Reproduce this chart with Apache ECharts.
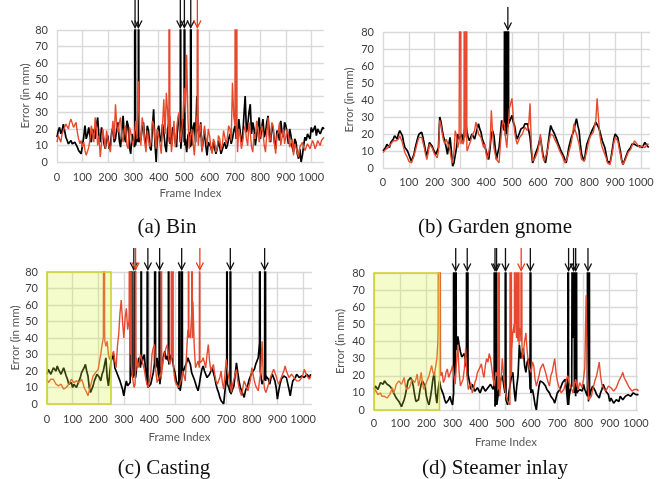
<!DOCTYPE html>
<html>
<head>
<meta charset="utf-8">
<script src="https://cdn.jsdelivr.net/npm/echarts@6/dist/echarts.min.js"></script>
<style>
  html, body { margin: 0; padding: 0; background: #fff; }
  #chart { width: 667px; height: 479px; }
</style>
</head>
<body>
<div id="chart"></div>
<script>
// Per-frame tracking error (mm). Each series is stored as readings on the
// frames 0,10,20,... plus the readings on the frames 5,15,25,..., and the
// short excursions past the top of the axis are listed as [frame, value].
const STEP = 10;
const xTickLabels = [0, 100, 200, 300, 400, 500, 600, 700, 800, 900, 1000];
const yTickLabels = [0, 10, 20, 30, 40, 50, 60, 70, 80];

// (a) Bin
const binBlack = [
  15,21,19,22,13,12,11,12,9,6,
  4,22,17,15,20,14,27,12,18,8,
  16,10,21,14,24,9,28,12,22,5,
  18,11,21,14,24,10,19,7,32,0,
  22,12,18,6,24,13,19,9,28,14,
  22,6,18,10,24,40,15,7,19,4,
  13,6,11,8,9,6,12,10,17,14,
  22,18,25,15,40,22,35,24,10,22,
  14,26,18,28,12,20,8,17,25,15,
  22,11,16,6,12,2,0,10,13,18,
  21,20,16,19,18,20
];
const binBlackMid = [
  19,17,23,15,11,13,10,12,7,5,
  15,14,21,12,17,22,15,21,11,14,
  8,18,12,20,13,19,15,25,9,17,
  9,17,12,20,13,22,9,20,12,19,
  15,23,10,20,11,21,12,24,12,26,
  14,16,9,21,12,19,24,13,10,12,
  9,12,5,13,5,10,8,14,11,19,
  14,26,12,28,18,30,17,20,16,27,
  21,15,24,17,22,12,19,13,18,24,
  17,20,9,14,5,8,4,15,17,14,
  18,22,20,17,21
];
const binRed = [
  12,14,17,20,22,24,26,22,18,11,
  9,7,5,14,18,27,10,3,20,8,
  14,6,25,35,18,27,12,22,8,18,
  10,25,49,10,22,6,18,12,23,8,
  20,5,38,42,12,6,25,10,30,18,
  45,65,8,20,4,28,18,6,22,10,
  16,5,12,8,14,10,18,15,20,48,
  22,6,16,12,22,10,18,6,14,20,
  12,18,6,27,14,22,5,18,10,20,
  12,16,8,4,10,3,8,9,8,10,
  9,11,10,12,13,15
];
const binRedMid = [
  16,12,19,23,20,26,21,24,14,13,
  12,4,9,22,12,20,16,11,14,19,
  9,16,14,22,24,15,20,10,21,12,
  17,14,20,27,12,19,9,25,14,20,
  11,22,17,30,28,14,9,27,12,26,
  30,26,16,12,15,12,23,14,15,20,
  9,14,6,16,7,19,11,22,13,28,
  14,20,8,19,14,24,9,17,25,12,
  22,10,17,12,24,11,16,24,15,11,
  20,9,14,11,6,9,12,7,11,8,
  13,8,13,10,14
];
const binBlackSpikes = [[306,14],[307,300],[308,300],[309,10],[319,12],[320,300],[321,300],[322,15],
  [484,14],[485,300],[486,300],[487,8],[500,12],[501,300],[502,300],[503,10],[525,10],[526,300],[527,300],[528,12]];
const binRedSpikes = [[439,30],[441,300],[442,300],[444,15],[551,20],[553,300],[554,300],[556,10],
  [700,40],[702,300],[704,48],[706,300],[708,20]];
const binArrowsBlack = [307, 320, 485, 501, 526];
const binArrowsRed = [552];

// (b) Garden gnome
const gnomeBlack = [
  10,12,13,15,17,18,20,23,15,11,
  9,4,8,15,20,21,14,7,15,13,
  10,7,30,22,16,8,18,1,4,20,
  18,16,27,18,17,21,18,26,21,15,
  10,5,20,19,5,12,28,22,20,27,
  31,25,17,21,22,26,26,18,3,8,
  12,18,8,3,14,25,22,18,14,10,
  7,3,12,18,22,29,22,8,4,14,
  18,22,25,26,22,16,12,4,3,12,
  20,18,10,2,6,10,12,15,14,12,
  14,13,14,12
];
const gnomeBlackMid = [
  11,14,12,16,19,17,22,19,12,10,
  6,5,12,18,19,18,10,11,16,11,
  8,12,27,18,12,14,10,3,12,17,
  20,21,22,16,20,17,23,23,17,16,
  7,12,22,12,9,20,25,19,24,29,
  27,20,19,23,24,27,22,10,5,9,
  15,13,5,8,20,23,20,16,12,9,
  5,7,15,20,26,25,14,6,9,16,
  20,23,27,24,19,14,8,3,7,17,
  19,14,5,4,8,11,14,14,13,13,
  12,15,13
];
const gnomeRed = [
  9,11,12,14,16,16,17,18,12,8,
  4,3,7,13,18,18,12,5,14,12,
  8,6,28,20,14,18,10,3,22,12,
  15,14,18,9,16,20,27,20,18,12,
  8,4,34,12,5,3,22,26,12,35,
  41,22,14,18,20,24,22,38,4,6,
  10,20,6,4,12,20,19,16,12,9,
  5,2,9,15,26,20,14,5,4,10,
  17,20,22,41,20,12,9,3,2,10,
  18,16,8,2,5,9,11,14,15,13,
  12,14,13,14
];
const gnomeRedMid = [
  10,12,13,15,15,17,19,15,9,6,
  3,5,10,16,19,15,8,9,13,10,
  7,10,25,16,17,13,5,9,19,16,
  17,15,12,14,19,22,24,19,15,14,
  5,14,20,8,4,14,28,18,24,38,
  30,17,16,19,22,23,26,14,5,8,
  14,12,4,9,17,21,17,14,10,7,
  3,6,12,20,22,17,9,4,7,14,
  19,21,28,30,15,10,6,2,6,15,
  17,12,4,3,7,10,13,16,14,12,
  13,12,14
];
const gnomeBlackSpikes = [[472,22],[474,300],[475,300],[477,25],[479,300],[480,300],[482,24],
  [484,300],[485,300],[487,26]];
const gnomeRedSpikes = [[299,15],[301,300],[302,14],[314,16],[316,300],[317,18],[322,20],[324,300],[326,10]];
const gnomeArrowsBlack = [484];
const gnomeArrowsRed = [];

// (c) Casting
const castBlack = [
  18,20,19,21,23,20,19,21,15,11,
  10,13,11,16,20,24,17,7,11,16,
  19,14,20,28,11,26,30,20,16,13,
  5,14,10,12,18,22,28,24,30,14,
  10,13,25,28,14,24,32,29,24,27,
  19,12,8,18,22,28,24,17,14,8,
  17,23,19,15,19,21,12,7,2,0,
  15,10,6,11,25,14,8,4,10,15,
  19,21,23,37,12,16,18,12,18,14,
  3,12,16,18,15,5,14,16,17,15,
  18,17,17,18
];
const castBlackMid = [
  21,18,22,20,21,18,22,17,12,13,
  12,10,14,19,22,20,10,9,14,18,
  16,18,24,16,19,28,22,18,14,9,
  10,11,13,16,20,25,22,28,20,11,
  12,19,22,18,20,29,27,26,30,22,
  14,9,13,21,25,26,19,15,10,12,
  21,20,16,18,22,16,9,4,1,8,
  12,7,9,18,19,10,6,8,12,17,
  20,24,28,20,14,17,15,16,16,10,
  8,15,17,16,9,10,15,18,16,17,
  16,18,16
];
const castRed = [
  15,14,16,14,13,10,12,8,9,13,
  14,12,15,14,13,9,5,11,17,19,
  21,30,40,35,30,28,32,22,42,63,
  40,58,50,22,10,28,25,29,21,12,
  9,30,36,13,16,22,31,36,24,30,
  14,11,9,20,14,45,40,62,22,26,
  24,28,22,36,20,24,14,11,20,9,
  27,16,7,15,21,10,5,14,11,9,
  22,14,10,7,38,9,8,15,19,20,
  14,14,17,23,18,15,17,15,13,15,
  18,20,16,17
];
const castRedMid = [
  13,15,15,12,11,12,9,10,12,15,
  13,14,13,15,10,7,8,14,18,20,
  26,36,45,38,27,30,26,35,55,50,
  52,45,30,15,20,22,30,24,16,10,
  18,34,20,15,19,27,34,28,27,20,
  12,10,15,17,30,42,55,35,24,22,
  26,25,30,26,22,18,12,16,13,18,
  20,11,12,18,14,7,10,12,8,15,
  18,11,8,20,15,7,12,17,21,17,
  12,16,20,20,16,18,16,14,14,16,
  21,17,15
];
const castBlackSpikes = [[329,12],[330,300],[331,300],[332,18],[342,18],[343,300],[344,300],[346,16],
  [367,26],[368,300],[369,28],[391,12],[392,300],[393,300],[394,10],[422,24],[423,300],[424,26],
  [438,14],[439,300],[440,300],[441,12],[474,26],[475,300],[476,24],[517,10],[518,300],[519,14],
  [526,16],[527,300],[528,300],[529,18],[702,18],[703,300],[704,14],[715,8],[716,300],[717,300],[718,6],
  [830,37],[831,300],[832,300],[833,20],[851,16],[852,300],[853,300],[854,14]];
const castRedSpikes = [[223,40],[224,300],[226,38],[321,55],[322,300],[324,50],[327,30],[328,300],[329,25],
  [344,12],[346,300],[347,20],[446,15],[447,300],[448,18],[485,26],[486,300],[487,28],[491,28],[492,300],[493,25],
  [552,40],[553,300],[554,45],[565,50],[566,300],[568,40],[594,25],[596,300],[597,25]];
const castArrowsBlack = [339, 394, 440, 526, 716, 850];
const castArrowsRed = [346, 597];

// (d) Steamer inlay
const steamBlack = [
  12,13,14,16,17,15,14,12,9,6,
  4,3,9,17,19,14,5,6,15,18,
  8,3,12,22,4,17,14,6,3,8,
  3,18,43,34,30,27,20,12,14,10,
  12,11,13,10,12,14,15,2,16,20,
  10,3,15,22,5,20,30,36,22,30,
  10,8,0,14,18,15,12,10,7,4,
  10,12,16,18,3,12,15,8,10,13,
  15,10,5,12,15,9,7,12,14,12,
  5,6,4,7,8,6,8,9,8,10,
  9,9
];
const steamBlackMid = [
  14,12,16,15,18,16,13,10,7,5,
  2,6,13,18,17,9,4,11,17,14,
  5,7,18,10,12,13,9,4,6,5,
  10,35,38,31,33,24,16,15,11,13,
  10,14,11,13,15,12,8,10,18,15,
  6,10,20,12,14,38,33,26,28,18,
  12,3,8,17,16,14,11,8,6,7,
  11,14,17,12,8,14,10,9,12,11,
  12,8,9,14,11,8,10,15,11,9,
  7,4,6,5,9,7,8,10,9,9,
  10
];
const steamRed = [
  10,11,9,8,8,7,9,13,12,16,
  18,17,14,11,15,19,18,14,22,12,
  16,20,26,20,30,78,22,18,24,20,
  26,15,38,14,18,36,12,16,12,18,
  22,27,19,30,33,24,14,20,8,30,
  12,5,2,45,55,40,45,33,45,27,
  22,26,14,20,23,28,19,14,22,30,
  17,12,9,15,20,14,10,18,12,15,
  18,67,6,8,15,20,28,15,12,10,
  15,12,10,15,18,22,18,15,12,10,
  13,11
];
const steamRedMid = [
  12,9,10,7,9,8,11,10,15,17,
  15,19,12,13,18,16,21,17,16,14,
  18,23,22,25,50,20,16,22,19,23,
  20,28,22,15,24,20,14,10,16,22,
  25,22,26,28,30,18,22,12,18,20,
  8,4,20,50,42,48,38,40,34,24,
  28,18,17,24,27,22,16,20,26,22,
  14,10,12,18,16,12,15,14,16,13,
  25,20,5,12,18,24,20,13,11,14,
  13,11,13,17,20,19,16,13,11,12,
  12
];
const steamBlackSpikes = [[304,10],[305,300],[306,300],[307,40],[311,38],[312,300],[313,300],[314,43],
  [353,25],[354,300],[355,300],[356,20],[357,300],[358,300],[359,18],
  [459,15],[460,300],[461,300],[462,2],[464,2],[466,300],[467,300],[468,300],[469,3],
  [501,12],[502,300],[503,300],[504,6],[596,12],[597,300],[598,300],[599,10],
  [740,15],[741,300],[742,300],[743,3],[759,15],[760,300],[762,42],[764,300],[766,42],[768,300],[770,42],[772,300],[774,10],
  [814,10],[815,300],[817,300],[819,5],[821,300],[823,8]];
const steamRedSpikes = [[244,40],[246,300],[249,76],[251,300],[254,24],
  [474,25],[476,300],[477,300],[479,10],[519,3],[520,300],[521,300],[523,20],[524,300],[526,35],
  [536,45],[537,300],[539,50],[544,42],[546,300],[548,45],[551,40],[552,300],[554,38],
  [561,40],[562,300],[564,300],[566,30]];
const steamArrowsBlack = [312, 356, 462, 468, 502, 597, 743, 762, 770, 817];
const steamArrowsRed = [562];

// Panel content
const panels = [
  { caption: '(a) Bin', black: binBlack, blackMid: binBlackMid, red: binRed, redMid: binRedMid,
    blackSpikes: binBlackSpikes, redSpikes: binRedSpikes,
    arrowsBlack: binArrowsBlack, arrowsRed: binArrowsRed, xMax: 1050, showXName: true, initEnd: null },
  { caption: '(b) Garden gnome', black: gnomeBlack, blackMid: gnomeBlackMid, red: gnomeRed, redMid: gnomeRedMid,
    blackSpikes: gnomeBlackSpikes, redSpikes: gnomeRedSpikes,
    arrowsBlack: gnomeArrowsBlack, arrowsRed: gnomeArrowsRed, xMax: 1035, showXName: false, initEnd: null },
  { caption: '(c) Casting', black: castBlack, blackMid: castBlackMid, red: castRed, redMid: castRedMid,
    blackSpikes: castBlackSpikes, redSpikes: castRedSpikes,
    arrowsBlack: castArrowsBlack, arrowsRed: castArrowsRed, xMax: 1035, showXName: true, initEnd: 250 },
  { caption: '(d) Steamer inlay', black: steamBlack, blackMid: steamBlackMid, red: steamRed, redMid: steamRedMid,
    blackSpikes: steamBlackSpikes, redSpikes: steamRedSpikes,
    arrowsBlack: steamArrowsBlack, arrowsRed: steamArrowsRed, xMax: 1008, showXName: true, initEnd: 250 }
];

// Layout of the 2x2 figure
const layout = [
  { left: 57,  top: 30,  width: 267, height: 132, yGap: 26, xGap: 25, xMargin: 10, capX: 167, capY: 227, arrowLen: 30 },
  { left: 383, top: 32,  width: 267, height: 136, yGap: 28, xGap: 25, xMargin: 9,  capX: 495, capY: 227, arrowLen: 25 },
  { left: 47,  top: 272, width: 265, height: 132, yGap: 26, xGap: 27, xMargin: 10, capX: 164, capY: 468, arrowLen: 24 },
  { left: 374, top: 273, width: 264, height: 137, yGap: 28, xGap: 26, xMargin: 8,  capX: 495, capY: 468, arrowLen: 25 }
];

const GRID_COLOR = '#d9d9d9';
const RED = '#e64a2e';
const TICK_FONT = 'Lato';

function buildLine(values, mids, spikes) {
  const pts = values.map((v, i) => [i * STEP, v]);
  mids.forEach((v, i) => pts.push([i * STEP + STEP / 2, v]));
  spikes.forEach(p => pts.push([p[0], p[1]]));
  pts.sort((a, b) => a[0] - b[0]);
  return pts;
}

function arrowRenderer(color, len) {
  return function (params, api) {
    const p = api.coord([api.value(0), 80]);
    const x = p[0], top = p[1];
    return {
      type: 'group',
      children: [
        { type: 'line', shape: { x1: x, y1: top - len, x2: x, y2: top - 2.5 },
          style: { stroke: color, lineWidth: 1.3 } },
        { type: 'polyline', shape: { points: [[x - 3.6, top - 9.5], [x, top - 2.5], [x + 3.6, top - 9.5]] },
          style: { stroke: color, fill: null, lineWidth: 1.3 } }
      ]
    };
  };
}

function boxRenderer(params, api) {
  const p1 = api.coord([api.value(0), api.value(3)]);
  const p2 = api.coord([api.value(2), api.value(1)]);
  return {
    type: 'rect',
    shape: { x: p1[0], y: p1[1], width: p2[0] - p1[0], height: p2[1] - p1[1] },
    style: { fill: 'rgba(215,243,51,0.25)', stroke: '#cfd12a', lineWidth: 1.6 }
  };
}

const grid = [], xAxis = [], yAxis = [], series = [], graphic = [];

panels.forEach((p, i) => {
  const L = layout[i];
  grid.push({ left: L.left, top: L.top, width: L.width, height: L.height, containLabel: false, outerBoundsMode: 'none' });
  xAxis.push({
    gridIndex: i, type: 'value', min: 0, max: p.xMax, interval: 100,
    name: p.showXName ? 'Frame Index' : '', nameLocation: 'middle', nameGap: L.xGap,
    nameTextStyle: { fontFamily: TICK_FONT, fontSize: 11.5, color: '#595959' },
    axisLine: { show: false }, axisTick: { show: false },
    axisLabel: { margin: L.xMargin, color: '#404040', fontFamily: TICK_FONT, fontSize: 11,
      showMaxLabel: false, hideOverlap: false,
      formatter: v => xTickLabels.indexOf(v) >= 0 ? String(v) : '' },
    splitLine: { show: true, showMaxLine: false, lineStyle: { color: GRID_COLOR, width: 1.4 } }
  });
  yAxis.push({
    gridIndex: i, type: 'value', min: 0, max: 80, interval: 10,
    name: 'Error (in mm)', nameLocation: 'middle', nameGap: L.yGap, nameRotate: 90,
    nameTextStyle: { fontFamily: TICK_FONT, fontSize: 11.5, color: '#595959' },
    axisLine: { show: false }, axisTick: { show: false },
    axisLabel: { margin: 9, color: '#404040', fontFamily: TICK_FONT, fontSize: 11,
      formatter: v => yTickLabels.indexOf(v) >= 0 ? String(v) : '' },
    splitLine: { show: true, lineStyle: { color: GRID_COLOR, width: 1.4 } }
  });

  series.push({
    type: 'line', xAxisIndex: i, yAxisIndex: i, data: buildLine(p.black, p.blackMid, p.blackSpikes),
    showSymbol: false, symbol: 'none', clip: true, z: 2, silent: true,
    lineStyle: { color: '#000', width: 1.7 }
  });
  series.push({
    type: 'line', xAxisIndex: i, yAxisIndex: i, data: buildLine(p.red, p.redMid, p.redSpikes),
    showSymbol: false, symbol: 'none', clip: true, z: 3, silent: true,
    lineStyle: { color: RED, width: 1.4 }
  });

  if (p.initEnd !== null) {
    series.push({
      type: 'custom', xAxisIndex: i, yAxisIndex: i, z: 5, silent: true,
      data: [[0, 0, p.initEnd, 80]], renderItem: boxRenderer
    });
  }

  series.push({
    type: 'custom', xAxisIndex: i, yAxisIndex: i, z: 6, silent: true, clip: false,
    data: p.arrowsBlack.map(f => [f, 80]), renderItem: arrowRenderer('#111', L.arrowLen)
  });
  if (p.arrowsRed.length) {
    series.push({
      type: 'custom', xAxisIndex: i, yAxisIndex: i, z: 6, silent: true, clip: false,
      data: p.arrowsRed.map(f => [f, 80]), renderItem: arrowRenderer('#f03a1c', L.arrowLen)
    });
  }

  graphic.push({
    type: 'text', x: L.capX, y: L.capY, silent: true,
    style: { text: p.caption, textAlign: 'center', textVerticalAlign: 'middle',
      fill: '#111', font: '21px "Liberation Serif", "DejaVu Serif", serif' }
  });
});

const chart = echarts.init(document.getElementById('chart'), null, { renderer: 'canvas' });
chart.setOption({
  animation: false,
  backgroundColor: '#fff',
  grid, xAxis, yAxis, series, graphic
});
</script>
</body>
</html>
